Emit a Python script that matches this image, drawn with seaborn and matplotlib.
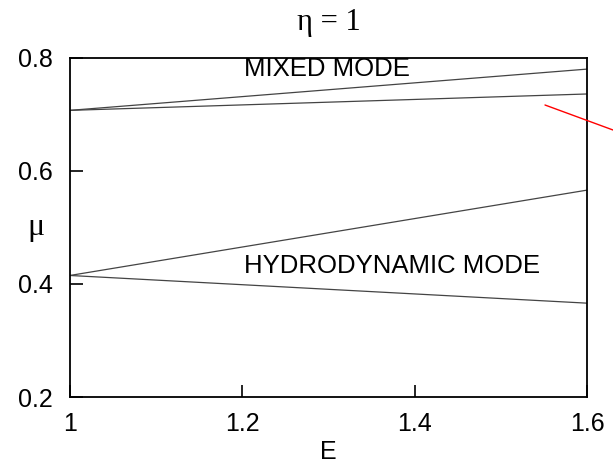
import matplotlib
matplotlib.use("Agg")
import matplotlib.pyplot as plt
from matplotlib.lines import Line2D
import pandas as pd
import seaborn as sns

# Boundary curves mu(E) for eta = 1
E = [1.0, 1.6]
mixed_upper = [0.707, 0.780]
mixed_lower = [0.707, 0.736]
hydro_upper = [0.415, 0.566]
hydro_lower = [0.415, 0.366]

x_ticks = [1.0, 1.2, 1.4, 1.6]
x_tick_labels = ["1", "1.2", "1.4", "1.6"]
y_ticks = [0.2, 0.4, 0.6, 0.8]
y_tick_labels = ["0.2", "0.4", "0.6", "0.8"]

rows = []
for name, vals in [("mixed_upper", mixed_upper), ("mixed_lower", mixed_lower),
                   ("hydro_upper", hydro_upper), ("hydro_lower", hydro_lower)]:
    for e, m in zip(E, vals):
        rows.append({"E": e, "mu": m, "curve": name})
df = pd.DataFrame(rows)

sns.set_style("white")
plt.rcParams["font.family"] = ["Liberation Sans", "DejaVu Sans"]
plt.rcParams["text.color"] = "black"
plt.rcParams["axes.labelcolor"] = "black"

fig = plt.figure(figsize=(6.13, 4.66), dpi=100)
ax = fig.add_axes([0.114, 0.148, 0.844, 0.728])

sns.lineplot(data=df, x="E", y="mu", units="curve", estimator=None,
             color="#444444", linewidth=0.9, ax=ax, legend=False)

ax.set_xlim(1.0, 1.6)
ax.set_ylim(0.2, 0.8)
ax.set_xticks(x_ticks)
ax.set_xticklabels(x_tick_labels)
ax.set_yticks(y_ticks)
ax.set_yticklabels(y_tick_labels)
ax.tick_params(axis="both", direction="in", length=9, width=1.2,
               labelsize=18, colors="black",
               bottom=True, left=True, top=False, right=False)
ax.tick_params(axis="x", pad=11)
ax.tick_params(axis="y", pad=12)
for s in ax.spines.values():
    s.set_color("black")
    s.set_linewidth(1.3)

ax.set_xlabel("E", fontsize=18, labelpad=3)
ax.set_ylabel("\u03bc", fontsize=23, family=["Liberation Serif", "DejaVu Serif"],
              rotation=0, va="center", ha="center")
ax.yaxis.set_label_coords(-0.066, 0.5)
ax.set_title("\u03b7 = 1", fontsize=22, family=["Liberation Serif", "DejaVu Serif"], pad=20)

ax.text(1.298, 0.780, "MIXED MODE", fontsize=18.5, ha="center", va="center")
ax.text(1.374, 0.432, "HYDRODYNAMIC MODE", fontsize=18.5, ha="center", va="center")

# Red pointer line running off the right edge
fig.add_artist(Line2D([545 / 613, 613 / 613], [1 - 105 / 466, 1 - 130 / 466],
                      transform=fig.transFigure, color="red", linewidth=1.0))

fig.savefig("out.png", dpi=100)
